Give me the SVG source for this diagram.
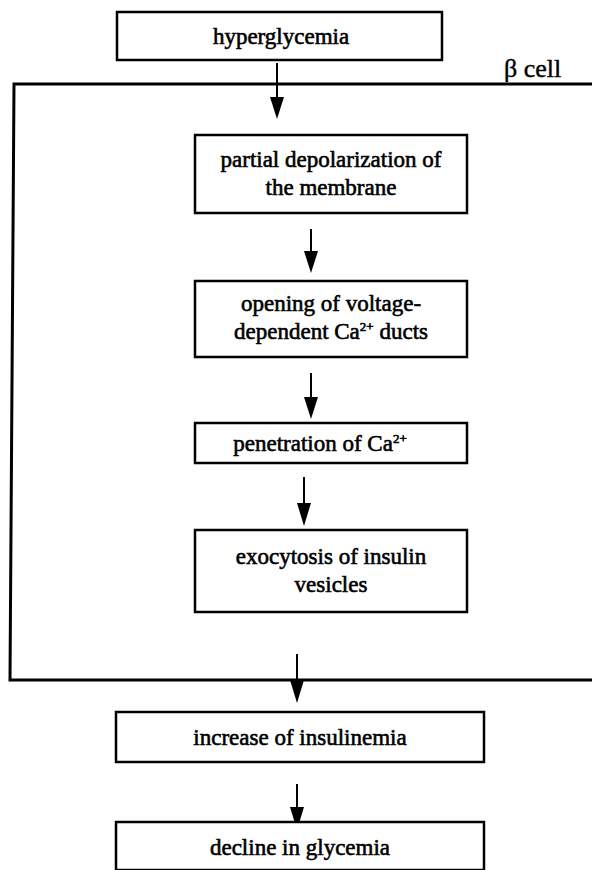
<svg xmlns="http://www.w3.org/2000/svg" width="592" height="870" viewBox="0 0 592 870">
<style>
  .box { fill: #fff; stroke: #000; stroke-width: 2.5; }
  .frame { fill: none; stroke: #000; stroke-width: 3; }
  .lbl { font-family: "Liberation Serif", "Times New Roman", serif; font-size: 23px; fill: #000; stroke: #000; stroke-width: 0.6; text-anchor: middle; }
  .sup { font-size: 13px; }
  .conn { stroke: #000; stroke-width: 2; fill: none; }
  .head { fill: #000; }
</style>
<rect width="592" height="870" fill="#fff"/>

<g id="cell-frame">
  <path class="frame" d="M600,84 L14,84 L10,680 L600,680"/>
  <text class="lbl" x="504" y="77" style="text-anchor:start;font-size:26px;stroke-width:0.4">β cell</text>
</g>

<g id="connectors">
  <line class="conn" x1="277" y1="63" x2="277" y2="100"/>
  <path class="head" d="M270,97 L284,97 L277,119 Z"/>
  <line class="conn" x1="311" y1="229" x2="311" y2="254"/>
  <path class="head" d="M304,251 L318,251 L311,273 Z"/>
  <line class="conn" x1="311" y1="373" x2="311" y2="400"/>
  <path class="head" d="M304,397 L318,397 L311,419 Z"/>
  <line class="conn" x1="304" y1="477" x2="304" y2="506"/>
  <path class="head" d="M297,503 L311,503 L304,526 Z"/>
  <line class="conn" x1="297" y1="654" x2="297" y2="683"/>
  <path class="head" d="M290,680 L304,680 L297,703 Z"/>
  <line class="conn" x1="297" y1="784" x2="297" y2="810"/>
  <path class="head" d="M290,807 L304,807 L297,830 Z"/>
</g>

<g id="hyperglycemia">
  <rect class="box" x="117" y="12" width="325" height="48"/>
  <text class="lbl" x="281" y="44">hyperglycemia</text>
</g>

<g id="depolarization">
  <rect class="box" x="195" y="135" width="272" height="78"/>
  <text class="lbl" x="331" y="167">partial depolarization of</text>
  <text class="lbl" x="331" y="195">the membrane</text>
</g>

<g id="opening">
  <rect class="box" x="195" y="281" width="272" height="76"/>
  <text class="lbl" x="331" y="311">opening of voltage-</text>
  <text class="lbl" x="331" y="339">dependent Ca<tspan class="sup" dy="-8">2+</tspan><tspan dy="8"> ducts</tspan></text>
</g>

<g id="penetration">
  <rect class="box" x="195" y="423" width="272" height="40"/>
  <text class="lbl" x="320" y="451">penetration of Ca<tspan class="sup" dy="-8">2+</tspan></text>
</g>

<g id="exocytosis">
  <rect class="box" x="195" y="530" width="272" height="82"/>
  <text class="lbl" x="331" y="564">exocytosis of insulin</text>
  <text class="lbl" x="331" y="592">vesicles</text>
</g>

<g id="insulinemia">
  <rect class="box" x="116" y="712" width="368" height="50"/>
  <text class="lbl" x="300" y="745">increase of insulinemia</text>
</g>

<g id="decline">
  <rect class="box" x="116" y="822" width="368" height="48"/>
  <text class="lbl" x="300" y="855">decline in glycemia</text>
</g>
</svg>
